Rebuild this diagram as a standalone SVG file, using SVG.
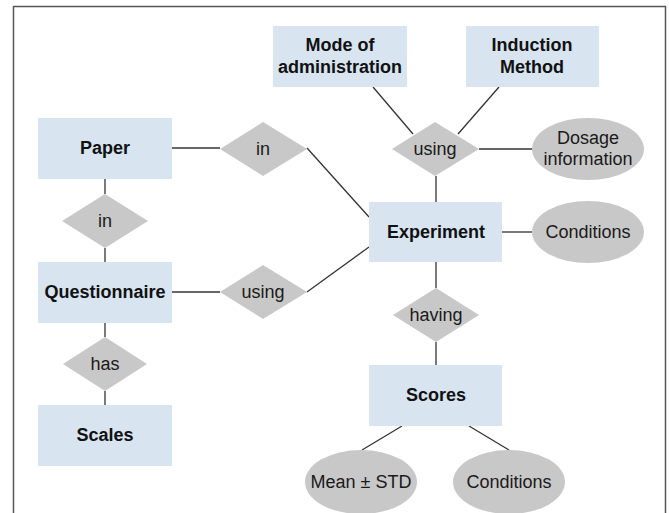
<svg xmlns="http://www.w3.org/2000/svg" width="669" height="513" viewBox="0 0 669 513">
<style>
.ent{fill:#d8e5f1}
.rel{fill:#c8c8c8}
.att{fill:#c8c8c8}
.b{font-family:"Liberation Sans",Arial,sans-serif;font-size:18px;font-weight:bold;fill:#111;text-anchor:middle}
.r{font-family:"Liberation Sans",Arial,sans-serif;font-size:18px;fill:#1a1a1a;text-anchor:middle}
.ln{stroke:#333;stroke-width:1.3;fill:none}
</style>
<rect x="0" y="0" width="669" height="513" fill="#fff"/>
<path d="M13.5,513 V6.5 H665.5 V513" fill="none" stroke="#555" stroke-width="1.5"/>
<g id="connectors" class="ln">
<line x1="172" y1="148" x2="220" y2="148"/>
<line x1="307" y1="148" x2="369" y2="217"/>
<line x1="172" y1="292" x2="220" y2="292"/>
<line x1="307" y1="292" x2="369" y2="247"/>
<line x1="105" y1="179" x2="105" y2="194"/>
<line x1="105" y1="248" x2="105" y2="262"/>
<line x1="105" y1="323" x2="105" y2="337"/>
<line x1="105" y1="391" x2="105" y2="405"/>
<line x1="373" y1="87" x2="413" y2="134"/>
<line x1="499" y1="87" x2="458" y2="134"/>
<line x1="479" y1="149" x2="532" y2="149"/>
<line x1="436" y1="176" x2="436" y2="202"/>
<line x1="502" y1="232" x2="532" y2="232"/>
<line x1="436" y1="262" x2="436" y2="288"/>
<line x1="436" y1="342" x2="436" y2="365"/>
<line x1="402" y1="426" x2="362" y2="450"/>
<line x1="469" y1="426" x2="509" y2="450"/>
</g>
<g id="paper"><rect class="ent" x="38" y="118" width="134" height="61"/><text class="b" x="105" y="154">Paper</text></g>
<g id="questionnaire"><rect class="ent" x="38" y="262" width="134" height="61"/><text class="b" x="105" y="298">Questionnaire</text></g>
<g id="scales"><rect class="ent" x="38" y="405" width="134" height="61"/><text class="b" x="105" y="441">Scales</text></g>
<g id="mode"><rect class="ent" x="273" y="26" width="134" height="61"/><text class="b" x="340" y="51">Mode of</text><text class="b" x="340" y="73">administration</text></g>
<g id="induction"><rect class="ent" x="466" y="26" width="133" height="61"/><text class="b" x="532" y="51">Induction</text><text class="b" x="532" y="73">Method</text></g>
<g id="experiment"><rect class="ent" x="369" y="202" width="133" height="60"/><text class="b" x="436" y="238">Experiment</text></g>
<g id="scores"><rect class="ent" x="369" y="365" width="133" height="61"/><text class="b" x="436" y="401">Scores</text></g>
<g id="rel-paper-exp"><polygon class="rel" points="220,149 263,122 307,149 263,176"/><text class="r" x="263" y="155">in</text></g>
<g id="rel-q-exp"><polygon class="rel" points="220,292 263,265 307,292 263,319"/><text class="r" x="263" y="298">using</text></g>
<g id="rel-paper-q"><polygon class="rel" points="62,221 105,194 148,221 105,248"/><text class="r" x="105" y="227">in</text></g>
<g id="rel-has"><polygon class="rel" points="63,364 105,337 147,364 105,391"/><text class="r" x="105" y="370">has</text></g>
<g id="rel-using"><polygon class="rel" points="392,149 435,122 479,149 435,176"/><text class="r" x="435" y="155">using</text></g>
<g id="rel-having"><polygon class="rel" points="393,315 436,288 479,315 436,342"/><text class="r" x="436" y="321">having</text></g>
<g id="dosage"><ellipse class="att" cx="588" cy="149" rx="56" ry="31"/><text class="r" x="588" y="144">Dosage</text><text class="r" x="588" y="165">information</text></g>
<g id="conditions1"><ellipse class="att" cx="588" cy="232" rx="56" ry="31"/><text class="r" x="588" y="238">Conditions</text></g>
<g id="mean"><ellipse class="att" cx="361" cy="482" rx="56" ry="32"/><text class="r" x="361" y="488">Mean ± STD</text></g>
<g id="conditions2"><ellipse class="att" cx="509" cy="482" rx="56" ry="32"/><text class="r" x="509" y="488">Conditions</text></g>
</svg>
